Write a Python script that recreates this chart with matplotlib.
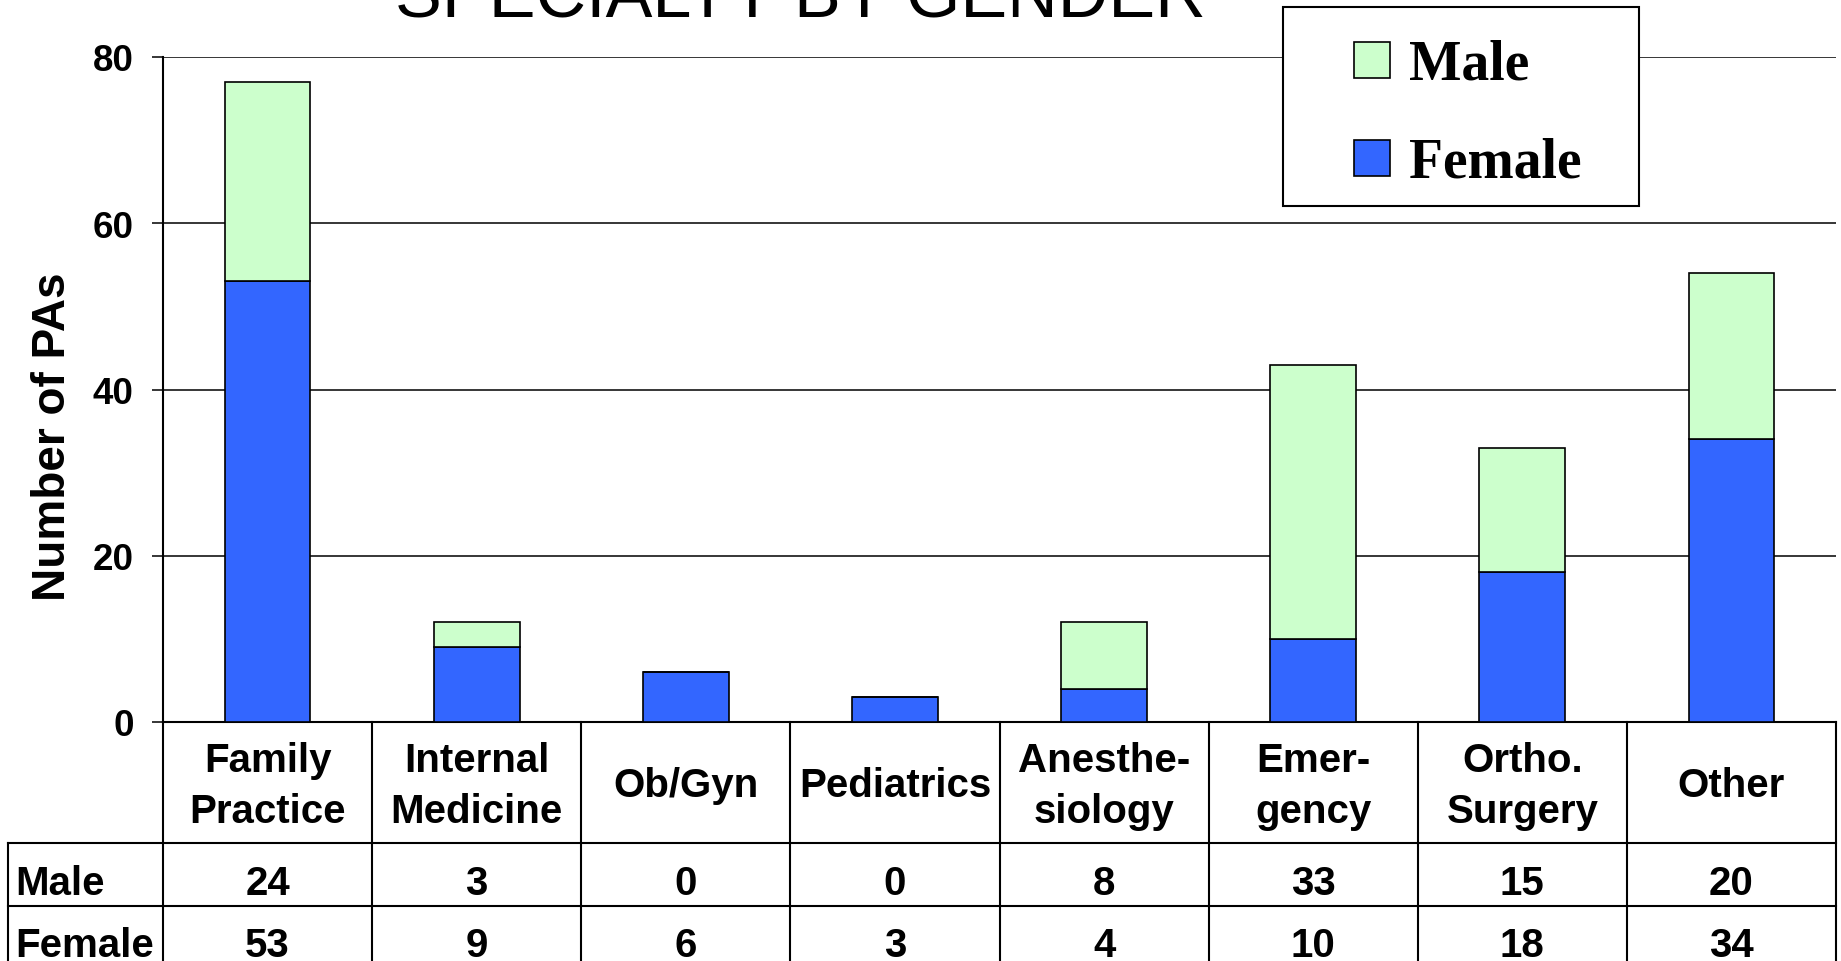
import matplotlib
matplotlib.use("Agg")
import matplotlib.pyplot as plt
from matplotlib.patches import Rectangle
from matplotlib.lines import Line2D
import matplotlib.transforms as mtransforms

# ---- data ----
categories = ["Family\nPractice", "Internal\nMedicine", "Ob/Gyn", "Pediatrics",
              "Anesthe-\nsiology", "Emer-\ngency", "Ortho.\nSurgery", "Other"]
male = [24, 3, 0, 0, 8, 33, 15, 20]
female = [53, 9, 6, 3, 4, 10, 18, 34]
series_names = ["Male", "Female"]
yticks = [0, 20, 40, 60, 80]
title = "SPECIALTY BY GENDER"
ylabel = "Number of PAs"

W, H = 1841, 962
fig = plt.figure(figsize=(W / 100, H / 100), dpi=100)
fig.patch.set_facecolor("white")

SANS = "Liberation Sans"
SERIF = "Liberation Serif"

# axes in pixel geometry
x0, x1 = 163, 1836
y_top, y_bot = 58, 723
ax = fig.add_axes([x0 / W, 1 - y_bot / H, (x1 - x0) / W, (y_bot - y_top) / H])
n = len(categories)
xs = list(range(n))
ax.set_xlim(-0.5, n - 0.5)
ax.set_ylim(0, 80)

col_f = "#3366FF"
col_m = "#CCFFCC"
bw = 0.41
ax.bar(xs, female, width=bw, color=col_f, edgecolor="black", linewidth=1.2, zorder=3)
ax.bar(xs, male, width=bw, bottom=female, color=col_m, edgecolor="black",
       linewidth=1.2, zorder=3)

ax.set_yticks(yticks)
ax.set_yticklabels([str(v) for v in yticks], fontfamily=SANS, fontweight="bold",
                   fontsize=26.5)
ax.tick_params(axis="y", direction="out", length=8, width=1.1, pad=13)
ax.set_xticks([])
ax.yaxis.grid(True, color="black", linewidth=1.1)
ax.set_axisbelow(True)
for s in ["top", "right"]:
    ax.spines[s].set_visible(False)
ax.spines["left"].set_linewidth(1.5)
ax.spines["bottom"].set_linewidth(1.5)

# y label
fig.text(53 / W, 1 - 437 / H, ylabel, rotation=90, ha="center", va="center",
         fontfamily=SANS, fontweight="bold", fontsize=33)

# title
fig.text(800 / W, 1 - 18 / H, title, ha="center", va="baseline",
         fontfamily=SANS, fontsize=50.5)

# ---- data table below the axes ----
blend = mtransforms.blended_transform_factory(ax.transData, fig.transFigure)
def fy(p):
    return 1 - p / H

lw_t = 1.5
row_lines = [844, 907]
for yp in row_lines:
    fig.add_artist(Line2D([8 / W, x1 / W], [fy(yp), fy(yp)], color="black",
                          linewidth=lw_t, transform=fig.transFigure))
# left outer line of row label column
fig.add_artist(Line2D([8 / W, 8 / W], [fy(844), fy(H + 10)], color="black",
                      linewidth=lw_t, transform=fig.transFigure))
# column boundaries
for b in [i - 0.5 for i in range(n + 1)]:
    ax.add_line(Line2D([b, b], [fy(723), fy(H + 10)], color="black",
                       linewidth=lw_t, transform=blend, clip_on=False))

fs_t = 29
# header labels
for i, lab in enumerate(categories):
    lines = lab.split("\n")
    if len(lines) == 2:
        bases = [772, 823]
    else:
        bases = [797]
    for ln, bp in zip(lines, bases):
        ax.text(i, fy(bp), ln, transform=blend, ha="center", va="baseline",
                fontfamily=SANS, fontweight="bold", fontsize=fs_t, clip_on=False)

# row values
rows = [(series_names[0], male, 895), (series_names[1], female, 957)]
for name, vals, bp in rows:
    fig.text(15 / W, fy(bp), name, ha="left", va="baseline",
             fontfamily=SANS, fontweight="bold", fontsize=fs_t)
    for i, v in enumerate(vals):
        ax.text(i, fy(bp), str(v), transform=blend, ha="center", va="baseline",
                fontfamily=SANS, fontweight="bold", fontsize=fs_t, clip_on=False)

# ---- legend (drawn in figure pixel coordinates) ----
def fr(xp, yp, w, h, **kw):
    return Rectangle((xp / W, 1 - (yp + h) / H), w / W, h / H,
                     transform=fig.transFigure, **kw)

fig.add_artist(fr(1283, 8, 356, 199, facecolor="white", edgecolor="black",
                  linewidth=1.5, zorder=10))
for (name, col, ytop) in [(series_names[0], col_m, 43), (series_names[1], col_f, 141)]:
    fig.add_artist(fr(1354, ytop, 36, 36, facecolor=col, edgecolor="black",
                      linewidth=1.2, zorder=11))
    fig.text(1409 / W, fy(ytop + 36), name, ha="left", va="baseline",
             fontfamily=SERIF, fontweight="bold", fontsize=40, zorder=12)

fig.savefig("out.png", dpi=100, facecolor="white")
